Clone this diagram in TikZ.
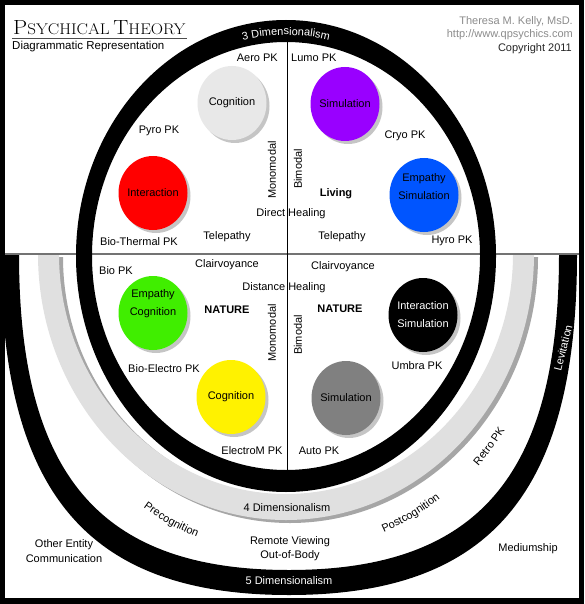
\documentclass[tikz,border=0pt]{standalone}
\usepackage{fontspec}
\newfontfamily\labelfont{Liberation Sans}
\usepackage{tikz}
\usetikzlibrary{shapes.geometric,shadows,decorations.text}
\usepackage{xcolor}
\definecolor{cogtopfill}{RGB}{232,232,232}
\definecolor{simtopfill}{RGB}{153,0,255}
\definecolor{empsimfill}{RGB}{0,85,255}
\definecolor{empcogfill}{RGB}{64,238,0}
\definecolor{simlowfill}{RGB}{128,128,128}
\definecolor{bandgrey}{RGB}{224,224,224}
\definecolor{authorgrey}{RGB}{140,140,140}

\begin{document}
\begin{tikzpicture} [
      x = 1pt, y = -1pt,
      every node/.style = { font = \labelfont\fontsize{11}{13}\selectfont, inner sep = 0 },
      ball/.style = { ellipse, minimum width = 69pt, minimum height = 74pt,
                      drop shadow={shadow xshift=3pt,shadow yshift=-3pt,opacity=.45} },
      balltext/.style = { align = center, font = \labelfont\fontsize{11}{18}\selectfont },
      bold/.style = { font = \labelfont\bfseries\fontsize{11}{13}\selectfont },
      ringtext/.style = { decorate, decoration = { text along path, text align = center,
                      text = {|\labelfont\fontsize{11}{13}\selectfont|#1} } },
      whiteringtext/.style = { decorate, decoration = { text along path, text align = center,
                      text color = white, text = {|\labelfont\fontsize{11}{13}\selectfont|#1} } }
      ]

      \useasboundingbox (0,0) rectangle (584,604);
      \fill [black] (0,0) rectangle (584,604);
      \fill [white] (5,5) rectangle (579,598);

      % 5 and 4 dimensionalism bands
      \fill [black] (577,254) .. controls (577,492.7) and (490.6,595) .. (289,595)
            .. controls (87.4,595) and (1,492.7) .. (1,254)
            -- (19,254) .. controls (19,475.2) and (100,570) .. (289,570)
            .. controls (478,570) and (559,475.2) .. (559,254) -- cycle;
      \fill [black, opacity = .35] (538,257) arc [start angle = 0, end angle = 180, x radius = 248, y radius = 266]
            -- (63,257) arc [start angle = 180, end angle = 0, x radius = 227, y radius = 240] -- cycle;
      \fill [bandgrey] (534,254) arc [start angle = 0, end angle = 180, x radius = 248, y radius = 266]
            -- (59,254) arc [start angle = 180, end angle = 0, x radius = 227, y radius = 240] -- cycle;

      \draw [black!55, line width = 1.2pt] (5,254) -- (579,254);

      % 3 dimensionalism ring
      \fill [black, even odd rule] (286,256) ellipse [x radius = 210, y radius = 236]
            (286,256) ellipse [x radius = 194, y radius = 214];
      \draw [line width = .8pt] (287,42) -- (287,470);

      \path [whiteringtext = 3 Dimensionalism] (185,64.6) arc [start angle = 240, end angle = 300, x radius = 202, y radius = 221];

      \node [ball, fill = cogtopfill] (cogtop) at (232,103) {};
      \node [balltext] (cogtoptxt) at (cogtop) {Cognition};
      \node [ball, fill = simtopfill] (simtop) at (345,104) {};
      \node [balltext] (simtoptxt) at (simtop) {Simulation};
      \node [ball, fill = red] (inttop) at (153,193) {};
      \node [balltext] (inttoptxt) at (inttop) {Interaction};
      \node [ball, fill = empsimfill] (empsim) at (424,195) {};
      \node [balltext] (empsimtxt) at (424,187) {Empathy\\Simulation};
      \node [ball, fill = empcogfill] (empcog) at (153,313) {};
      \node [balltext] (empcogtxt) at (153,304) {Empathy\\Cognition};
      \node [ball, fill = black] (intsim) at (423,315) {};
      \node [balltext, text = white] (intsimtxt) at (intsim) {Interaction\\Simulation};
      \node [ball, fill = yellow] (coglow) at (231,397) {};
      \node [balltext] (coglowtxt) at (coglow) {Cognition};
      \node [ball, fill = simlowfill] (simlow) at (346,398) {};
      \node [balltext] (simlowtxt) at (simlow) {Simulation};

      \node [anchor = base west, font = \rmfamily] (title) at (13,35)
            {\scalebox{1.1}[1]{{\fontsize{20.5}{20}\selectfont P}{\fontsize{15.5}{16}\selectfont SYCHICAL} {\fontsize{20.5}{20}\selectfont T}{\fontsize{15.5}{16}\selectfont HEORY}}};
      \draw [black!70, line width = .8pt] ([xshift = -1pt, yshift = -3pt] title.base west) -- ([xshift = 1pt, yshift = -3pt] title.base east);
      \node [anchor = west, font = \labelfont\fontsize{11.5}{13}\selectfont] (subtitle) at (12,47) {Diagrammatic Representation};
      \node [anchor = east, text = authorgrey] (author) at (573,22) {Theresa M. Kelly, MsD.};
      \node [anchor = east, text = authorgrey] (site) at (573,35) {http://www.qpsychics.com};
      \node [anchor = east, text = black!85] (copyright) at (572,49) {Copyright 2011};

      \node [anchor = east] (aero) at (278,58) {Aero PK};
      \node [anchor = west] (lumo) at (291,58) {Lumo PK};
      \node (pyro) at (159,131) {Pyro PK};
      \node (cryo) at (405,136) {Cryo PK};
      \node [rotate = 90] (monotop) at (272,170) {Monomodal};
      \node [rotate = 90] (bitop) at (298,169) {Bimodal};
      \node [bold] (living) at (336,194) {Living};
      \node (direct) at (291,214) {Direct Healing};
      \node (telel) at (227,237) {Telepathy};
      \node (teler) at (342,237) {Telepathy};
      \node (biothermal) at (139,242) {Bio-Thermal PK};
      \node (hyro) at (452,241) {Hyro PK};

      \node (bio) at (116,271) {Bio PK};
      \node (clairl) at (227,265) {Clairvoyance};
      \node (clairr) at (343,267) {Clairvoyance};
      \node (distance) at (284,288) {Distance Healing};
      \node [bold] (naturel) at (227,310) {NATURE};
      \node [bold] (naturer) at (340,309) {NATURE};
      \node [rotate = 90] (monolow) at (272,333) {Monomodal};
      \node [rotate = 90] (bilow) at (298,335) {Bimodal};
      \node (bioelectro) at (164,369) {Bio-Electro PK};
      \node (umbra) at (417,366) {Umbra PK};
      \node (electrom) at (252,451) {ElectroM PK};
      \node (auto) at (319,451) {Auto PK};

      \node (fourdim) at (287,508) {4 Dimensionalism};
      \path [ringtext = Precognition] (98.9,467.4) arc [start angle = 135, end angle = 97, x radius = 266, y radius = 299];
      \path [ringtext = Postcognition] (333.2,548.5) arc [start angle = 80, end angle = 44, x radius = 266, y radius = 299];
      \path [ringtext = Retro PK] (451.8,492.6) arc [start angle = 52, end angle = 28, x radius = 266, y radius = 299];
      \node [rotate = 76, text = white] (levitation) at (563,348) {Levitation};
      \node (remote) at (290,542) {Remote Viewing};
      \node (outofbody) at (290,556) {Out-of-Body};
      \node [text = white] (fivedim) at (289,581) {5 Dimensionalism};
      \node (otherentity) at (64,545) {Other Entity};
      \node (communication) at (64,559) {Communication};
      \node (mediumship) at (528,549) {Mediumship};
    \end{tikzpicture}
\end{document}
